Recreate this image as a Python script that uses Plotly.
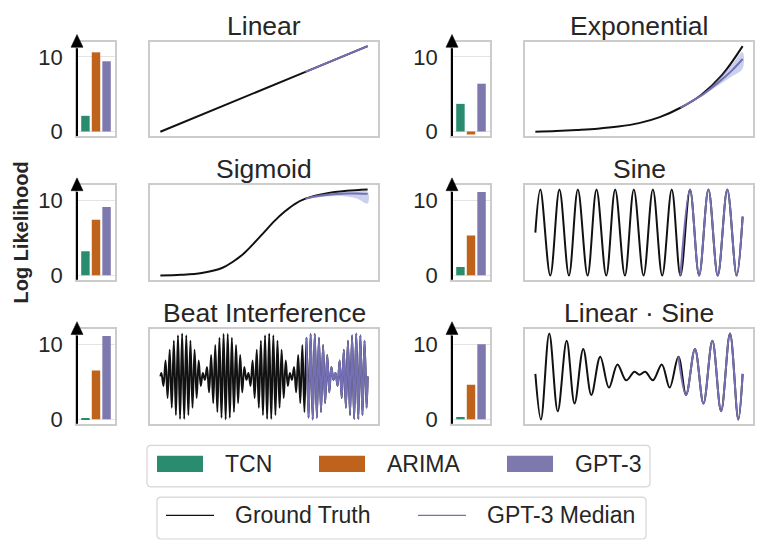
import plotly.graph_objects as go

W, H = 765, 548

# ---------------- data ----------------
models = ["TCN", "ARIMA", "GPT-3"]
model_colors = ["#2a8c6e", "#bf621c", "#7d78ad"]

titles = ["Linear", "Exponential", "Sigmoid", "Sine", "Beat Interference", "Linear · Sine"]

# log likelihood per model (TCN, ARIMA, GPT-3)
ll_linear = [2.1, 10.6, 9.4]
ll_exponential = [3.7, -0.4, 6.4]
ll_sigmoid = [3.2, 7.4, 9.1]
ll_sine = [1.1, 5.3, 11.1]
ll_beat = [0.05, 6.5, 11.1]
ll_linsine = [0.3, 4.6, 10.0]

# Linear
lin_t = [0, 70, 100]
lin_y = [0.0, 0.70, 1.0]
lin_gpt_t = [70, 100]
lin_gpt_y = [0.70, 1.0]

# Exponential
exp_t = [0, 10, 20, 30, 40, 50, 60, 70, 80, 90, 100]
exp_y = [0.0, 0.008, 0.02, 0.035, 0.06, 0.10, 0.17, 0.28, 0.43, 0.66, 1.0]
exp_gpt_t = [70, 75, 80, 85, 90, 95, 100]
exp_gpt_med = [0.28, 0.35, 0.42, 0.51, 0.61, 0.72, 0.85]
exp_gpt_lo = [0.28, 0.345, 0.41, 0.49, 0.57, 0.65, 0.74]
exp_gpt_hi = [0.28, 0.355, 0.435, 0.535, 0.66, 0.79, 0.93]

# Sigmoid
sig_t = [0, 10, 20, 30, 35, 40, 45, 50, 55, 60, 65, 70, 80, 90, 100]
sig_y = [0.0, 0.008, 0.03, 0.09, 0.16, 0.25, 0.37, 0.50, 0.63, 0.74, 0.83, 0.89, 0.95, 0.98, 0.995]
sig_gpt_t = [70, 75, 80, 85, 90, 95, 100]
sig_gpt_med = [0.89, 0.915, 0.932, 0.943, 0.95, 0.95, 0.945]
sig_gpt_lo = [0.885, 0.905, 0.915, 0.92, 0.915, 0.89, 0.835]
sig_gpt_hi = [0.895, 0.93, 0.95, 0.962, 0.97, 0.975, 0.97]

# Sine (start, extrema, end)
sine_t = [0, 2.4, 7.2, 11.6, 16.2, 20.5, 25.2, 29.5, 34.2, 38.5, 43.2, 47.5,
          52.2, 56.7, 61.2, 65.8, 70.0, 74.6, 79.0, 83.5, 88.0, 92.6, 97.1, 100]
sine_y = [0.0, 1, -1, 1, -1, 1, -1, 1, -1, 1, -1, 1,
          -1, 1, -1, 1, -1, 1, -1, 1, -1, 1, -1, 0.37]
sine_gpt_start = 16

# Beat interference: magnitude of each successive half-cycle extremum
beat_amp = [
    0.08, 0.22, 0.37, 0.50, 0.62, 0.73, 0.83, 0.90, 0.96, 0.99, 1.00,
    0.99, 0.96, 0.90, 0.83, 0.73, 0.62, 0.50, 0.37, 0.22, 0.08,
    0.08, 0.22, 0.37, 0.50, 0.62, 0.73, 0.83, 0.90, 0.96, 0.99, 1.00,
    0.99, 0.96, 0.90, 0.83, 0.73, 0.62, 0.50, 0.37, 0.22, 0.08,
    0.08, 0.22, 0.37, 0.50, 0.62, 0.73, 0.83, 0.90, 0.96, 0.99, 1.00,
    0.99, 0.96, 0.90, 0.83, 0.73, 0.62, 0.50, 0.37, 0.22, 0.08,
    0.08, 0.22, 0.37, 0.50, 0.62, 0.73, 0.83, 0.90, 0.96, 0.99, 1.00,
    0.99, 0.96, 0.90, 0.83, 0.73, 0.62, 0.50, 0.37, 0.22, 0.08,
    0.08, 0.22, 0.37, 0.50, 0.62, 0.73, 0.83, 0.90, 0.96, 0.99, 1.00,
    0.99, 0.96, 0.90, 0.83, 0.73,
]
beat_gpt_start = 71

# Linear * Sine (start, extrema, end)
ls_t = [0, 2.7, 6.7, 10.8, 15.1, 18.9, 23.1, 27.0, 31.3, 35.5, 39.6, 43.8, 47.8,
        50.2, 53.0, 56.7, 61.0, 64.8, 69.0, 72.7, 77.0, 81.1, 85.4, 89.6, 93.9, 97.9, 100]
ls_y = [0.06, -1.0, 1.0, -0.81, 0.83, -0.63, 0.64, -0.43, 0.46, -0.26, 0.28, -0.09, 0.11,
        0.04, 0.11, -0.09, 0.28, -0.26, 0.46, -0.43, 0.64, -0.63, 0.83, -0.81, 1.0, -1.0, 0.06]
ls_gpt_start = 18

# ---------------- derived series ----------------
beat_t = [0] + [k + 0.5 for k in range(len(beat_amp))] + [100]
beat_y = [0.0] + [a if k % 2 == 0 else -a for k, a in enumerate(beat_amp)] + [0.0]

panels = [
    dict(ll=ll_linear, t=lin_t, y=lin_y, gt=lin_gpt_t, gm=lin_gpt_y, lo=None, hi=None),
    dict(ll=ll_exponential, t=exp_t, y=exp_y, gt=exp_gpt_t, gm=exp_gpt_med, lo=exp_gpt_lo, hi=exp_gpt_hi),
    dict(ll=ll_sigmoid, t=sig_t, y=sig_y, gt=sig_gpt_t, gm=sig_gpt_med, lo=sig_gpt_lo, hi=sig_gpt_hi),
    dict(ll=ll_sine, t=sine_t, y=sine_y, gt=sine_t[sine_gpt_start:], gm=sine_y[sine_gpt_start:], lo=None, hi=None),
    dict(ll=ll_beat, t=beat_t, y=beat_y, gt=beat_t[beat_gpt_start:], gm=beat_y[beat_gpt_start:], lo=None, hi=None),
    dict(ll=ll_linsine, t=ls_t, y=ls_y, gt=ls_t[ls_gpt_start:], gm=ls_y[ls_gpt_start:], lo=None, hi=None),
]

# ---------------- layout geometry (pixels) ----------------
FONT = "Liberation Sans, Arial, sans-serif"
TXT = "#262626"
BOX = "#cccccc"
GT_COLOR = "#111111"
MED_COLOR = "#7570b3"
BAND_COLOR = "rgba(120,140,215,0.40)"
LW = 2.0

col_bar = [(77, 115), (452, 490)]
col_line = [(150, 378), (525, 753)]
rows = [(42.5, 138), (188, 284), (334, 430)]


def px(x):
    return x / W


def py(y):
    return 1 - y / H


fig = go.Figure()
layout = dict(
    width=W, height=H, autosize=False,
    margin=dict(l=0, r=0, t=0, b=0),
    paper_bgcolor="white", plot_bgcolor="white",
    showlegend=False,
    font=dict(family=FONT, color=TXT),
)
shapes = []
annotations = []

for i, p in enumerate(panels):
    r, c = divmod(i, 2)
    top, bot = rows[r]
    bx0, bx1 = col_bar[c]
    lx0, lx1 = col_line[c]
    nb = 2 * i + 1
    nl = 2 * i + 2
    xb, yb = ("x" if nb == 1 else f"x{nb}"), ("y" if nb == 1 else f"y{nb}")
    xl, yl = f"x{nl}", f"y{nl}"

    # bars
    fig.add_trace(go.Bar(x=models, y=p["ll"], marker=dict(color=model_colors, line=dict(width=0)),
                         width=0.8, xaxis=xb, yaxis=yb, hoverinfo="skip"))
    layout[f"xaxis{'' if nb == 1 else nb}"] = dict(
        domain=[px(bx0), px(bx1)], anchor=yb, type="category", range=[-0.8, 2.8],
        showticklabels=False, ticks="", showgrid=False, zeroline=False,
        showline=True, mirror=True, linecolor=BOX, linewidth=1.6)
    layout[f"yaxis{'' if nb == 1 else nb}"] = dict(
        domain=[py(bot), py(top)], anchor=xb, range=[-0.6, 12.0],
        tickvals=[0, 10], ticktext=["0", "10"], ticks="outside", ticklen=8,
        tickcolor="rgba(0,0,0,0)", tickfont=dict(size=22, color=TXT, family=FONT),
        showgrid=True, gridcolor="#e3e3e3", gridwidth=1, zeroline=False,
        showline=True, mirror=True, linecolor=BOX, linewidth=1.6)

    # arrow on the left spine
    tip = top - 7.5
    base = top + 5.5
    shapes.append(dict(type="line", xref="paper", yref="paper",
                       x0=px(bx0), x1=px(bx0), y0=py(bot), y1=py(base + 1),
                       line=dict(color="black", width=2)))
    shapes.append(dict(type="path", xref="paper", yref="paper",
                       path=f"M {px(bx0 - 6)},{py(base)} L {px(bx0 + 6)},{py(base)} L {px(bx0)},{py(tip)} Z",
                       fillcolor="black", line=dict(color="black", width=0.5)))

    # lines
    allv = list(p["y"]) + list(p["gm"]) + (p["lo"] or []) + (p["hi"] or [])
    vmin, vmax = min(allv), max(allv)
    pad = 0.05 * (vmax - vmin)
    tmin, tmax = min(p["t"]), max(p["t"])
    tpad = 0.05 * (tmax - tmin)

    fig.add_trace(go.Scatter(x=p["t"], y=p["y"], mode="lines",
                             line=dict(color=GT_COLOR, width=LW, shape="spline"),
                             xaxis=xl, yaxis=yl, hoverinfo="skip"))
    if p["lo"] is not None:
        fig.add_trace(go.Scatter(x=list(p["gt"]) + list(p["gt"])[::-1],
                                 y=list(p["hi"]) + list(p["lo"])[::-1],
                                 mode="lines", fill="toself", fillcolor=BAND_COLOR,
                                 line=dict(width=0, color=BAND_COLOR, shape="spline"),
                                 xaxis=xl, yaxis=yl, hoverinfo="skip"))
    fig.add_trace(go.Scatter(x=p["gt"], y=p["gm"], mode="lines",
                             line=dict(color=MED_COLOR, width=LW, shape="spline"),
                             xaxis=xl, yaxis=yl, hoverinfo="skip"))
    layout[f"xaxis{nl}"] = dict(
        domain=[px(lx0), px(lx1)], anchor=yl, range=[tmin - tpad, tmax + tpad],
        showticklabels=False, ticks="", showgrid=False, zeroline=False,
        showline=True, mirror=True, linecolor=BOX, linewidth=1.6)
    layout[f"yaxis{nl}"] = dict(
        domain=[py(bot), py(top)], anchor=xl, range=[vmin - pad, vmax + pad],
        showticklabels=False, ticks="", showgrid=False, zeroline=False,
        showline=True, mirror=True, linecolor=BOX, linewidth=1.6)

    annotations.append(dict(text=titles[i], xref="paper", yref="paper",
                            x=px((lx0 + lx1) / 2), y=py(top + 1), xanchor="center", yanchor="bottom",
                            showarrow=False, font=dict(size=26.5, color=TXT, family=FONT)))

# y label
annotations.append(dict(text="<b>Log Likelihood</b>", xref="paper", yref="paper",
                        x=px(21), y=py(236), xanchor="center", yanchor="middle", textangle=-90,
                        showarrow=False, font=dict(size=20, color=TXT, family=FONT)))


def rounded_rect(x0, y0, x1, y1, r=4):
    # pixel coords, y downward
    pts = (f"M {px(x0 + r)},{py(y0)} L {px(x1 - r)},{py(y0)} Q {px(x1)},{py(y0)} {px(x1)},{py(y0 + r)} "
           f"L {px(x1)},{py(y1 - r)} Q {px(x1)},{py(y1)} {px(x1 - r)},{py(y1)} "
           f"L {px(x0 + r)},{py(y1)} Q {px(x0)},{py(y1)} {px(x0)},{py(y1 - r)} "
           f"L {px(x0)},{py(y0 + r)} Q {px(x0)},{py(y0)} {px(x0 + r)},{py(y0)} Z")
    return dict(type="path", xref="paper", yref="paper", path=pts,
                fillcolor="white", line=dict(color="#d5d5d5", width=1.2), layer="below")


# legend 1 (models)
shapes.append(rounded_rect(147, 452, 650, 494))
patch_x = [157, 319, 507]
text_x = [223, 385, 573]
for k in range(3):
    shapes.append(dict(type="rect", xref="paper", yref="paper",
                       x0=px(patch_x[k]), x1=px(patch_x[k] + 46), y0=py(479), y1=py(462.5),
                       fillcolor=model_colors[k], line=dict(width=0)))
    annotations.append(dict(text=models[k], xref="paper", yref="paper", x=px(text_x[k]), y=py(471),
                            xanchor="left", yanchor="middle", showarrow=False,
                            font=dict(size=23, color=TXT, family=FONT)))

# legend 2 (lines)
shapes.append(rounded_rect(157, 504.5, 646, 547))
line_labels = ["Ground Truth", "GPT-3 Median"]
line_colors = [GT_COLOR, MED_COLOR]
lx = [166, 418]
tx = [233, 485]
for k in range(2):
    shapes.append(dict(type="line", xref="paper", yref="paper",
                       x0=px(lx[k]), x1=px(lx[k] + 48), y0=py(523), y1=py(523),
                       line=dict(color=line_colors[k], width=1.2)))
    annotations.append(dict(text=line_labels[k], xref="paper", yref="paper", x=px(tx[k]), y=py(523),
                            xanchor="left", yanchor="middle", showarrow=False,
                            font=dict(size=23, color=TXT, family=FONT)))

layout["shapes"] = shapes
layout["annotations"] = annotations
fig.update_layout(**layout)

fig.write_html("out.html", config={"displayModeBar": False},
               post_script="document.body.style.margin='0';")
